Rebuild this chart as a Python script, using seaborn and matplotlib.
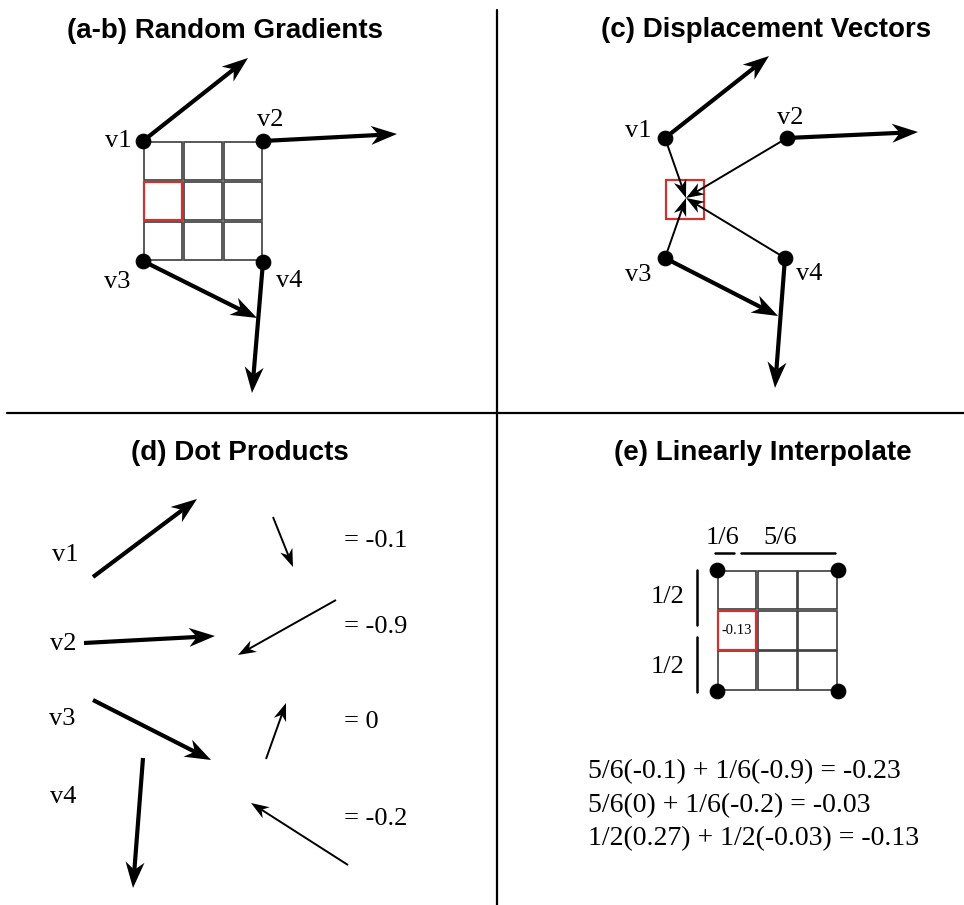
import numpy as np
import seaborn as sns
import matplotlib.pyplot as plt
from matplotlib.patches import Rectangle, Polygon

# ---- diagram data (pixel coordinates, y grows downward) ----
titles = ["(a-b) Random Gradients", "(c) Displacement Vectors",
          "(d) Dot Products", "(e) Linearly Interpolate"]
title_xy = [(225, 38), (766, 37), (240, 460), (763, 460)]

vnames = ["v1", "v2", "v3", "v4"]

# (a-b) grid corners, gradient tips and label spots
ab_corners_x = [143, 263, 143, 263]
ab_corners_y = [141, 141, 261, 262]
ab_tips_x = [248, 397, 257, 252]
ab_tips_y = [58, 134, 318, 393]
ab_label_x = [118, 270, 117, 289]
ab_label_y = [147, 126, 288, 287]

# (c) same gradients plus displacement vectors into the red cell
c_corners_x = [665, 787, 665, 785]
c_corners_y = [138, 138, 258, 258]
c_tips_x = [769, 918, 778, 775]
c_tips_y = [56, 132, 316, 388]
c_label_x = [638, 790, 638, 809]
c_label_y = [137, 124, 281, 280]
c_point = (686, 198)
c_redbox = (666, 180, 38, 39)

# (d) gradient vectors (thick) and displacement vectors (thin)
d_grad_start_x = [93, 84, 93, 143]
d_grad_start_y = [577, 643, 700, 758]
d_grad_end_x = [197, 215, 211, 133]
d_grad_end_y = [499, 636, 760, 888]
d_disp_start_x = [273, 336, 266, 348]
d_disp_start_y = [517, 600, 759, 865]
d_disp_end_x = [293, 238, 286, 251]
d_disp_end_y = [567, 655, 703, 803]
d_label_x = [65, 63, 62, 63]
d_label_y = [561, 650, 725, 803]
dot_values = ["-0.1", "-0.9", "0", "-0.2"]
dot_label_y = [547, 633, 728, 825]

# (e) interpolation grid
e_corners_x = [717, 838, 717, 838]
e_corners_y = [570, 570, 691, 691]
cell_value = "-0.13"
equations = ["5/6(-0.1) + 1/6(-0.9) = -0.23",
             "5/6(0) + 1/6(-0.2) = -0.03",
             "1/2(0.27) + 1/2(-0.03) = -0.13"]
eq_y = [778, 812, 845]

SERIF = ["Liberation Serif", "DejaVu Serif"]
RED = "#cc3333"
GRIDC = "#3c3c3c"


def arrow(ax, x0, y0, x1, y1, lw, head_len, head_w):
    d = np.array([x1 - x0, y1 - y0], dtype=float)
    d /= np.hypot(*d)
    n = np.array([-d[1], d[0]])
    tip = np.array([x1, y1], dtype=float)
    notch = tip - 0.7 * head_len * d
    ax.plot([x0, notch[0]], [y0, notch[1]], color="black", lw=lw,
            solid_capstyle="butt", zorder=3)
    pts = [tip, tip - head_len * d + head_w * n, notch,
           tip - head_len * d - head_w * n]
    ax.add_patch(Polygon(pts, closed=True, color="black", lw=0, zorder=4))


def grid3(ax, x0, y0, size, red=(1, 0)):
    pitch = size / 3
    for r in range(3):
        for c in range(3):
            is_red = (r, c) == red
            ax.add_patch(Rectangle((x0 + c * pitch + 0.8, y0 + r * pitch + 0.8),
                                   pitch - 1.8, pitch - 1.8, fill=False,
                                   ec=RED if is_red else GRIDC,
                                   lw=1.6 if is_red else 1.2,
                                   zorder=5 if is_red else 2))


def label(ax, x, y, s, size=19, ha="center"):
    ax.text(x, y, s, ha=ha, va="baseline", fontsize=size, family=SERIF,
            color="black")


sns.set_theme(style="white")
fig = plt.figure(figsize=(9.64, 9.05), dpi=100)
ax = fig.add_axes([0, 0, 1, 1])
ax.set_xlim(0, 964)
ax.set_ylim(905, 0)
ax.axis("off")

# dividers
ax.plot([497, 497], [10, 905], color="black", lw=1.6)
ax.plot([7, 964], [413, 413], color="black", lw=1.6)

for t, (tx, ty) in zip(titles, title_xy):
    ax.text(tx, ty, t, ha="center", va="baseline", fontsize=20,
            fontweight="bold", color="black",
            family=["Liberation Sans", "DejaVu Sans"])

# (a-b)
grid3(ax, ab_corners_x[0], ab_corners_y[0], ab_corners_x[1] - ab_corners_x[0])
for i in range(4):
    arrow(ax, ab_corners_x[i], ab_corners_y[i], ab_tips_x[i], ab_tips_y[i], 3.0, 26, 9.5)
    label(ax, ab_label_x[i], ab_label_y[i], vnames[i])
sns.scatterplot(x=ab_corners_x, y=ab_corners_y, color="black", s=110,
                edgecolor=None, ax=ax, zorder=6)

# (c)
ax.add_patch(Rectangle(c_redbox[:2], c_redbox[2], c_redbox[3], fill=False,
                       ec=RED, lw=1.6, zorder=2))
for i in range(4):
    arrow(ax, c_corners_x[i], c_corners_y[i], c_tips_x[i], c_tips_y[i], 3.0, 26, 9.5)
    arrow(ax, c_corners_x[i], c_corners_y[i], c_point[0], c_point[1], 1.4, 18, 6.5)
    label(ax, c_label_x[i], c_label_y[i], vnames[i])
sns.scatterplot(x=c_corners_x, y=c_corners_y, color="black", s=110,
                edgecolor=None, ax=ax, zorder=6)

# (d)
for i in range(4):
    arrow(ax, d_grad_start_x[i], d_grad_start_y[i], d_grad_end_x[i],
          d_grad_end_y[i], 3.0, 26, 9.5)
    arrow(ax, d_disp_start_x[i], d_disp_start_y[i], d_disp_end_x[i],
          d_disp_end_y[i], 1.4, 18, 6.5)
    label(ax, d_label_x[i], d_label_y[i], vnames[i])
    label(ax, 344, dot_label_y[i], "= " + dot_values[i], ha="left")

# (e)
size_e = e_corners_x[1] - e_corners_x[0]
grid3(ax, e_corners_x[0], e_corners_y[0], size_e)
sns.scatterplot(x=e_corners_x, y=e_corners_y, color="black", s=110,
                edgecolor=None, ax=ax, zorder=6)
ax.text(e_corners_x[0] + size_e / 6, e_corners_y[0] + size_e / 2, cell_value,
        ha="center", va="center", fontsize=10.5, family=SERIF, color="black",
        zorder=7)
ax.plot([715, 734], [553, 553], color="black", lw=1.8)
ax.plot([741, 835], [553, 553], color="black", lw=1.8)
label(ax, 723, 544, "1/6")
label(ax, 780, 544, "5/6")
ax.plot([697, 697], [570, 625], color="black", lw=1.8)
ax.plot([697, 697], [637, 692], color="black", lw=1.8)
label(ax, 668, 603, "1/2")
label(ax, 668, 673, "1/2")
for eq, y in zip(equations, eq_y):
    label(ax, 588, y, eq, size=20, ha="left")

fig.savefig("out.png", dpi=100)
